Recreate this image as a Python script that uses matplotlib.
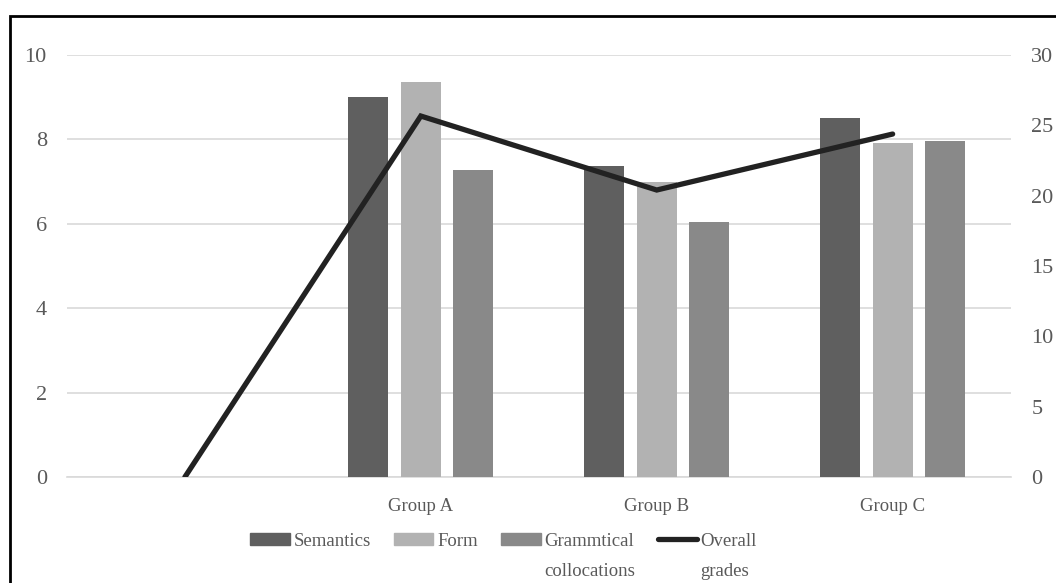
#! /usr/bin/env python

'''
Bar chart of the sub-scores per group with the overall grade on a
secondary axis.
'''

import numpy as np
import matplotlib
matplotlib.use('Agg')
import matplotlib.pyplot as plt
from matplotlib.patches import Rectangle
from matplotlib.lines import Line2D

categories = ['', 'Group A', 'Group B', 'Group C']
semantics = [np.nan, 9.0, 7.37, 8.5]
form = [np.nan, 9.37, 6.98, 7.91]
grammatical = [np.nan, 7.27, 6.05, 7.97]
overall = [0, 25.66, 20.4, 24.38]

left_ticks = [0, 2, 4, 6, 8, 10]
right_ticks = [0, 5, 10, 15, 20, 25, 30]

plt.rcParams['font.family'] = ['Liberation Serif', 'DejaVu Serif']

GRID = '#d9d9d9'
TXT = '#595959'


def make_plot():
    '''
    Draw the bars, the overall line and the legend.
    '''
    fig = plt.figure(figsize=(10.56, 5.83), dpi=100)
    ax = fig.add_axes([0.0634, 0.1818, 0.8936, 0.7239])
    x = np.arange(len(categories))
    w = 0.17
    step = 0.222
    series = [(semantics, '#5f5f5f', 'Semantics'),
              (form, '#b2b2b2', 'Form'),
              (grammatical, '#898989', 'Grammtical')]
    for i, (vals, col, lab) in enumerate(series):
        ax.bar(x + (i - 1) * step, vals, w, color=col, label=lab, zorder=3)

    ax.set_xlim(-0.5, 3.5)
    ax.set_ylim(0, 10)
    ax.set_yticks(left_ticks)
    ax.set_xticks(x)
    ax.set_xticklabels(categories)
    ax.grid(axis='y', color=GRID, linewidth=1.2, zorder=0)
    for s in ['top', 'right', 'left']:
        ax.spines[s].set_visible(False)
    ax.spines['bottom'].set_color(GRID)
    ax.spines['bottom'].set_linewidth(1.2)
    ax.tick_params(axis='both', length=0, labelcolor=TXT)
    ax.tick_params(axis='y', pad=14.5, labelsize=16)
    ax.tick_params(axis='x', pad=15, labelsize=13.5)

    ax2 = ax.twinx()
    ax2.plot(x, overall, color='#222222', linewidth=3.8,
             solid_capstyle='round', solid_joinstyle='miter', zorder=4)
    ax2.set_ylim(0, 30)
    ax2.set_yticks(right_ticks)
    for s in ax2.spines.values():
        s.set_visible(False)
    ax2.tick_params(axis='y', length=0, labelsize=16, labelcolor=TXT, pad=15)

    handles = [Rectangle((0, 0), 1, 1, color=c) for _, c, _ in series]
    handles.append(Line2D([0], [0], color='#222222', linewidth=3.8,
                          solid_capstyle='round'))
    labels = ['Semantics', 'Form', 'Grammtical', 'Overall']
    leg = fig.legend(handles, labels, ncol=4, loc='center',
                     bbox_to_anchor=(0.477, 0.072), frameon=False,
                     fontsize=13.5, labelcolor=TXT, handlelength=2.1,
                     handleheight=0.65, handletextpad=0.2,
                     columnspacing=1.25)

    # second lines of the two long labels sit under the first ones
    fig.canvas.draw()
    inv = fig.transFigure.inverted()
    for t, extra in [(leg.texts[2], 'collocations'), (leg.texts[3], 'grades')]:
        bb = t.get_window_extent()
        x0, y0 = inv.transform((bb.x0, bb.y0 - 30))
        fig.text(x0, y0, extra, fontsize=13.5, color=TXT,
                 ha='left', va='bottom')

    # frame round the whole chart
    fig.patches.append(Rectangle((10 / 1056.0, -0.1), 1.2, 1.1 - 16 / 583.0,
                                 transform=fig.transFigure, fill=False,
                                 edgecolor='black', linewidth=2))
    fig.savefig('out.png', dpi=100)


if __name__ == '__main__':
    make_plot()
